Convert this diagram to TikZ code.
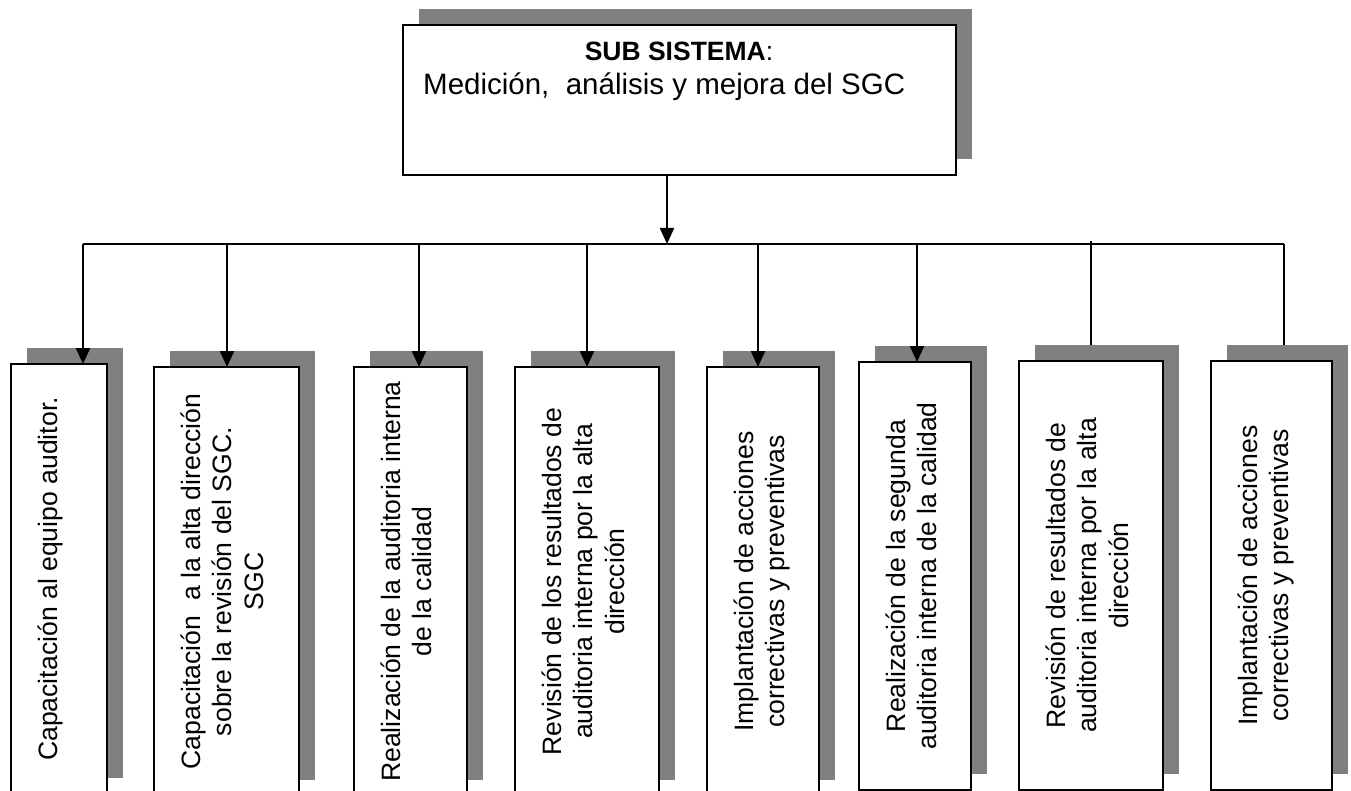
\documentclass[tikz,border=0pt]{standalone}
\usepackage{fontspec}
\setmainfont{Liberation Sans}
\usetikzlibrary{arrows.meta,backgrounds}
\definecolor{shadowgray}{HTML}{808080}
\begin{document}
\begin{tikzpicture}[x=1pt,y=-1pt,
  box/.style={draw=black, line width=2pt, fill=white, inner sep=0pt, outer sep=0pt},
  vlabel/.style={rotate=90, anchor=north, inner sep=0pt, align=center,
                 font=\fontsize{26.6pt}{31.5pt}\selectfont},
  toplabel/.style={inner sep=0pt},
  arr/.style={line width=2.2pt, -{Triangle[length=16pt,width=14pt]}},
  link/.style={line width=2.2pt},
  bus/.style={line width=1.6pt},
  shade/.style={fill=shadowgray, draw=none}
]
\useasboundingbox (0,0) rectangle (1351,791);
\clip (0,0) rectangle (1351,791);

% main subsystem box
\node[box, minimum width=553pt, minimum height=150pt] (top) at (679.5,100) {};
\node[toplabel, anchor=base, font=\fontsize{26.5pt}{32pt}\selectfont] (title) at (679,61) {\textbf{SUB SISTEMA}:};
\node[toplabel, anchor=base west, font=\fontsize{29.5pt}{34pt}\selectfont] (subtitle) at (423,95) {Medición,\ \ análisis y mejora del SGC};

% activity boxes
\node[box, minimum width=96pt,  minimum height=430pt] (b1) at (59,579) {};
\node[box, minimum width=145pt, minimum height=429pt] (b2) at (226.5,581.5) {};
\node[box, minimum width=113pt, minimum height=429pt] (b3) at (410.5,581.5) {};
\node[box, minimum width=144pt, minimum height=429pt] (b4) at (587,581.5) {};
\node[box, minimum width=112pt, minimum height=429pt] (b5) at (763,581.5) {};
\node[box, minimum width=112pt, minimum height=428pt] (b6) at (915,576) {};
\node[box, minimum width=144pt, minimum height=429pt] (b7) at (1091,575.5) {};
\node[box, minimum width=121pt, minimum height=429pt] (b8) at (1271.5,575.5) {};

% vertical labels, reading bottom to top
\node[vlabel] (t1) at ([xshift=22pt]b1.west) {\rule{0pt}{0.905em}Capacitación al equipo auditor.};
\node[vlabel] (t2) at ([xshift=22pt]b2.west) {\rule{0pt}{0.905em}Capacitación\ \ a la alta dirección\\sobre la revisión del SGC.\\SGC};
\node[vlabel] (t3) at ([xshift=22pt]b3.west) {\rule{0pt}{0.905em}Realización de la auditoria interna\\de la calidad};
\node[vlabel] (t4) at ([xshift=22pt]b4.west) {\rule{0pt}{0.905em}Revisión de los resultados de\\auditoria interna por la alta\\dirección};
\node[vlabel] (t5) at ([xshift=22pt]b5.west) {\rule{0pt}{0.905em}Implantación de acciones\\correctivas y preventivas};
\node[vlabel] (t6) at ([xshift=22pt]b6.west) {\rule{0pt}{0.905em}Realización de la segunda\\auditoria interna de la calidad};
\node[vlabel] (t7) at ([xshift=22pt]b7.west) {\rule{0pt}{0.905em}Revisión de resultados de\\auditoria interna por la alta\\dirección};
\node[vlabel] (t8) at ([xshift=22pt]b8.west) {\rule{0pt}{0.905em}Implantación de acciones\\correctivas y preventivas};

% drop shadows and page background
\begin{pgfonlayer}{background}
  \fill[white] (0,0) rectangle (1351,791);
  \foreach \n in {top,b1,b2,b3,b4,b5,b6,b7,b8}
    \fill[shade] ([shift={(16,-16)}]\n.south west) rectangle ([shift={(16,-16)}]\n.north east);
\end{pgfonlayer}

% distribution bus
\coordinate (hub) at (667,244);
\coordinate (j1) at (83,244);
\coordinate (j2) at (227,244);
\coordinate (j3) at (419,244);
\coordinate (j4) at (587,244);
\coordinate (j5) at (758,244);
\coordinate (j6) at (917,244);
\coordinate (j7) at (1091,241);
\coordinate (j8) at (1284,244);
\coordinate (s7) at ([yshift=16pt]b7.north);
\coordinate (s8) at ([yshift=16pt]b8.north);

\draw[bus] (j1) -- (j8);
\draw[arr] (top.south -| hub) -- (hub);
\foreach \i in {1,...,6}
  \draw[arr] (j\i) -- (j\i |- b\i.north);
\draw[link] (j7) -- (j7 |- s7);
\draw[link] (j8) -- (j8 |- s8);
\end{tikzpicture}
\end{document}
